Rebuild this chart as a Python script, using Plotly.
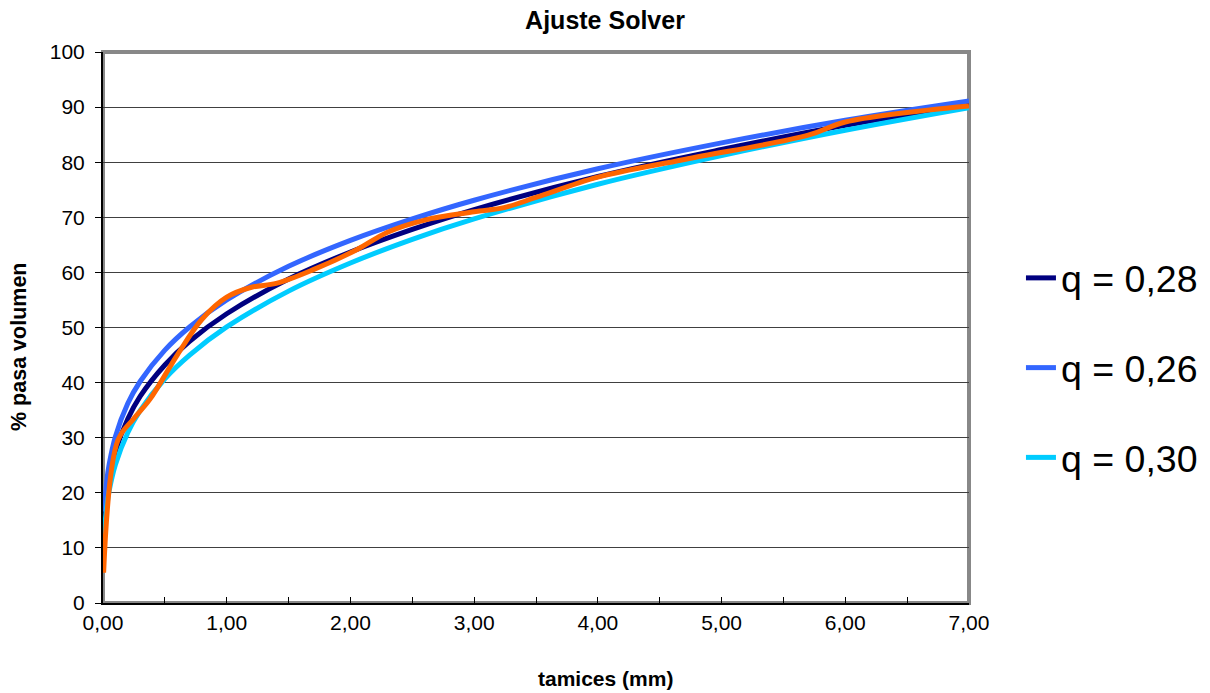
import plotly.graph_objects as go

# ---- data ----
x_model = [0.01, 0.03, 0.05, 0.1, 0.2, 0.3, 0.5, 0.7, 1.0, 1.5, 2.0, 2.5, 3.0, 4.0, 5.0, 6.0, 7.0]
y_q028 = [14.5, 19.7, 22.7, 27.5, 33.4, 37.5, 43.2, 47.5, 52.5, 58.8, 63.7, 67.8, 71.4, 77.4, 82.3, 86.7, 90.5]
y_q026 = [16.6, 22.1, 25.2, 30.2, 36.2, 40.2, 45.9, 50.1, 55.0, 61.1, 65.8, 69.7, 73.1, 78.8, 83.5, 87.6, 91.1]
y_q030 = [12.6, 17.5, 20.4, 25.1, 30.9, 34.9, 40.7, 45.0, 50.1, 56.6, 61.7, 66.0, 69.7, 76.0, 81.2, 85.8, 89.9]

x_data = [0.005, 0.12, 0.25, 0.38, 0.6, 0.8, 1.0, 1.2, 1.4, 1.7, 2.05, 2.3, 2.6, 3.0, 3.25, 3.5, 4.0, 4.7, 5.7, 6.0, 7.0]
y_data = [5.5, 29.5, 33.5, 37.0, 45.0, 51.5, 55.5, 57.3, 58.0, 60.5, 64.1, 67.3, 69.5, 71.0, 71.8, 73.6, 77.3, 80.5, 84.9, 87.3, 90.2]

series = [
    ("q = 0,28", y_q028, "#000080"),
    ("q = 0,26", y_q026, "#3366FF"),
    ("q = 0,30", y_q030, "#00CCFF"),
]

x_ticks = [0, 1, 2, 3, 4, 5, 6, 7]
x_ticktext = ["0,00", "1,00", "2,00", "3,00", "4,00", "5,00", "6,00", "7,00"]
y_ticks = list(range(0, 101, 10))

FONT = "Liberation Sans, Arial, sans-serif"

fig = go.Figure()
for i, (name, ys, col) in enumerate(series):
    fig.add_trace(go.Scatter(
        x=x_model, y=ys, name=name, mode="lines",
        line=dict(color=col, width=5, shape="spline", smoothing=1.0),
        legendgroup=f"g{i}",
    ))
fig.add_trace(go.Scatter(
    x=x_data, y=y_data, name="datos", mode="lines",
    line=dict(color="#FF6600", width=5, shape="spline", smoothing=1.0),
    showlegend=False,
))

fig.update_layout(
    width=1210, height=693,
    margin=dict(l=103, r=241, t=52, b=90, autoexpand=False),
    paper_bgcolor="white", plot_bgcolor="white",
    font=dict(family=FONT, color="black"),
    title=dict(text="<b>Ajuste Solver</b>", x=0.5, xanchor="center",
               y=1 - 20 / 693, yanchor="middle", yref="container",
               font=dict(size=25, family=FONT, color="black")),
    legend=dict(x=1.060, xanchor="left", y=0.4265, yanchor="middle",
                font=dict(size=37.5, family=FONT, color="black"),
                tracegroupgap=38, traceorder="grouped",
                bgcolor="rgba(0,0,0,0)"),
    showlegend=True,
    annotations=[
        dict(text="<b>tamices (mm)</b>", xref="paper", yref="paper",
             x=(605 - 103) / 866, y=(603 - 678) / 551, xanchor="center", yanchor="middle",
             showarrow=False, font=dict(size=21, family=FONT, color="black")),
        dict(text="<b>% pasa volumen</b>", xref="paper", yref="paper",
             x=(19 - 103) / 866, y=(603 - 347) / 551, xanchor="center", yanchor="middle",
             textangle=-90, showarrow=False, font=dict(size=21.5, family=FONT, color="black")),
    ],
)

fig.update_xaxes(
    range=[0, 7], tickvals=x_ticks, ticktext=x_ticktext,
    ticks="inside", ticklen=6, tickcolor="black", tickwidth=1,
    minor=dict(dtick=0.5, tick0=0, ticks="inside", ticklen=6, tickcolor="black", showgrid=False),
    showgrid=False, zeroline=False,
    showline=True, linecolor="black", linewidth=2,
    tickfont=dict(size=21, family=FONT, color="black"),
)
fig.update_yaxes(
    range=[0, 100], tickvals=y_ticks,
    ticks="outside", ticklen=6, tickcolor="black", tickwidth=1,
    ticklabelstandoff=6,
    showgrid=True, gridcolor="#404040", gridwidth=1, zeroline=False,
    showline=True, linecolor="black", linewidth=2,
    tickfont=dict(size=21, family=FONT, color="black"),
)

# plot-area border (gray frame as in the original)
fig.add_shape(type="rect", xref="x domain", yref="y domain", x0=0, x1=1, y0=0, y1=1,
              line=dict(color="#888888", width=4), layer="below")

fig.write_html("out.html")
